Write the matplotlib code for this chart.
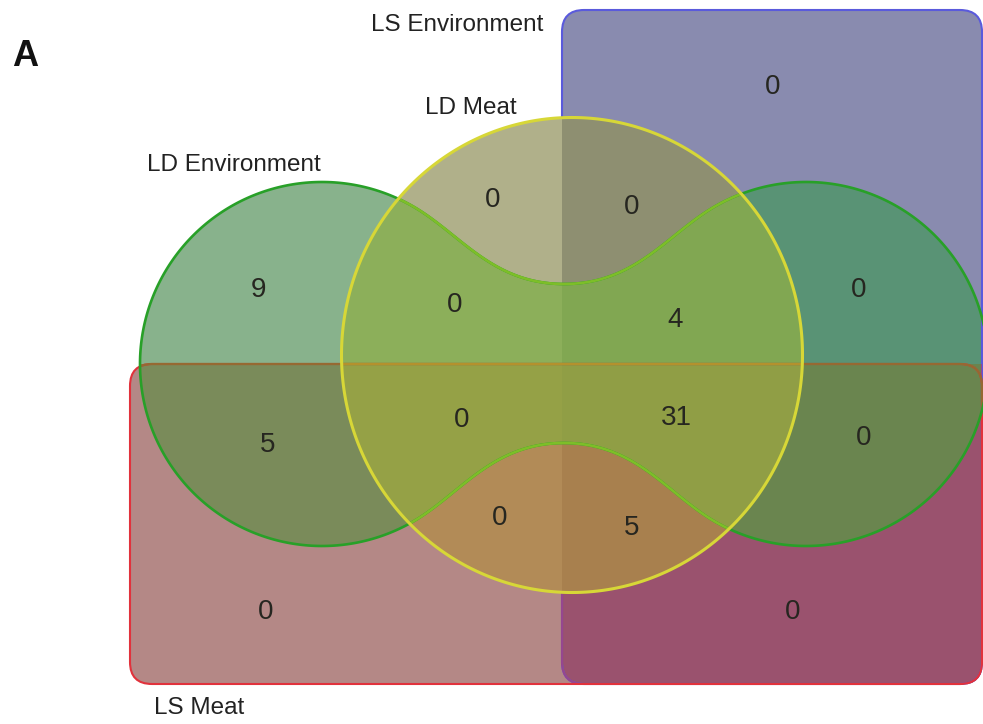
import numpy as np
import matplotlib
matplotlib.use("Agg")
import matplotlib.pyplot as plt
from matplotlib.patches import PathPatch, FancyBboxPatch
from matplotlib.path import Path
from matplotlib.transforms import Bbox, TransformedBbox

plt.rcParams['font.family'] = ['Liberation Sans', 'DejaVu Sans']

# G = LD Environment, Y = LD Meat, B = LS Environment, R = LS Meat
set_keys = ["G", "Y", "B", "R"]
set_labels = ["LD Environment", "LD Meat", "LS Environment", "LS Meat"]

region_keys = ["B", "Y", "YB", "G", "YG", "YGB", "GB", "GR",
               "YGR", "YGRB", "GRB", "YR", "YRB", "R", "RB"]
region_counts = [0, 0, 0, 9, 0, 4, 0, 5, 0, 31, 0, 0, 5, 0, 0]

W, H = 983, 724

# where each count sits and the fill of each region
count_pos = {
    "B": (773, 87), "Y": (493, 200), "YB": (632, 207), "G": (258, 290),
    "YG": (455, 305), "YGB": (675, 320), "GB": (859, 290), "GR": (268, 445),
    "YGR": (462, 420), "YGRB": (676, 418), "GRB": (864, 438),
    "YR": (500, 518), "YRB": (632, 528), "R": (266, 612), "RB": (793, 612),
}
region_color = {
    "B": "#898BAF", "Y": "#B0B08A", "YB": "#8E8F71", "G": "#88B28C",
    "YG": "#8CAF5A", "YGB": "#81A752", "GB": "#599375", "GR": "#7A8B5A",
    "YGR": "#95A146", "YGRB": "#909E45", "GRB": "#6A854F",
    "YR": "#B28B57", "YRB": "#A8804E", "R": "#B48886", "RB": "#9A526E",
}
label_pos = {"G": (234, 165), "Y": (471, 108), "B": (457, 25), "R": (199, 708)}

fig = plt.figure(figsize=(W / 100, H / 100), dpi=100)
ax = fig.add_axes([0, 0, 1, 1])
ax.set_xlim(0, W)
ax.set_ylim(H, 0)
ax.axis('off')


def arc(cx, cy, r, t0, t1, n=240):
    t = np.radians(np.linspace(t0, t1, n))
    return np.column_stack([cx + r * np.cos(t), cy - r * np.sin(t)])


def bezier(p0, p1, p2, p3, n=80):
    s = np.linspace(0, 1, n)[:, None]
    p0, p1, p2, p3 = map(np.asarray, (p0, p1, p2, p3))
    return (1 - s)**3 * p0 + 3 * (1 - s)**2 * s * p1 + 3 * (1 - s) * s**2 * p2 + s**3 * p3


# dumbbell shape for LD Environment
cxL, cxR, cy, r = 322, 806, 364, 182
mid = (cxL + cxR) / 2
waist_top, waist_bot = 284, 443
t0, k, m = 60, 55, 72
c, s_ = np.cos(np.radians(t0)), np.sin(np.radians(t0))

left = arc(cxL, cy, r, t0, 360 - t0)
right = arc(cxR, cy, r, 180 + t0, 540 - t0)
pLb, pLt = left[-1], left[0]
pRb, pRt = right[0], right[-1]
bot1 = bezier(pLb, pLb + k * np.array([s_, -c]), (mid - m, waist_bot), (mid, waist_bot))
bot2 = bezier((mid, waist_bot), (mid + m, waist_bot), pRb + k * np.array([-s_, -c]), pRb)
top1 = bezier(pRt, pRt + k * np.array([-s_, c]), (mid + m, waist_top), (mid, waist_top))
top2 = bezier((mid, waist_top), (mid - m, waist_top), pLt + k * np.array([s_, c]), pLt)
green_verts = np.vstack([left, bot1, bot2, right, top1, top2])
green_path = Path(np.vstack([green_verts, green_verts[:1]]), closed=True)

# circle for LD Meat
ey = np.radians(np.linspace(0, 360, 500))
yellow_verts = np.column_stack([572 + 230.5 * np.cos(ey), 355 + 237.5 * np.sin(ey)])
yellow_path = Path(yellow_verts, closed=True)

# rounded rectangles for the LS sets
rect_bounds = {"B": (562, 10, 982, 684), "R": (130, 364, 982, 684)}
rect_paths = {}
for key, (x0, y0, x1, y1) in rect_bounds.items():
    box = FancyBboxPatch((x0, y0), x1 - x0, y1 - y0,
                         boxstyle="round,pad=0,rounding_size=22")
    rect_paths[key] = box.get_path()


def bbox_of(keys):
    x0 = max(rect_bounds[q][0] for q in keys)
    y0 = max(rect_bounds[q][1] for q in keys)
    x1 = min(rect_bounds[q][2] for q in keys)
    y1 = min(rect_bounds[q][3] for q in keys)
    return TransformedBbox(Bbox([[x0, y0], [x1, y1]]), ax.transData)


# paint regions from single sets up to the full overlap
for key in sorted(region_keys, key=len):
    members = set(key)
    clip = None
    if "Y" in members:
        base = yellow_path
        if "G" in members:
            clip = green_path
    elif "G" in members:
        base = green_path
    else:
        base = rect_paths["B" if "B" in members else "R"]
    rects = [q for q in "BR" if q in members and base is not rect_paths[q]]
    patch = PathPatch(base, facecolor=region_color[key], edgecolor='none', lw=0)
    ax.add_patch(patch)
    if clip is not None:
        patch.set_clip_path(clip, ax.transData)
    if rects:
        patch.set_clip_box(bbox_of(rects))

# everything outside the LD Meat circle
frame = np.array([[-20, -20], [-20, H + 20], [W + 20, H + 20], [W + 20, -20], [-20, -20]])


def signed_area(v):
    return 0.5 * np.sum(v[:-1, 0] * v[1:, 1] - v[1:, 0] * v[:-1, 1])


hole = np.vstack([yellow_verts, yellow_verts[:1]])
if np.sign(signed_area(hole)) == np.sign(signed_area(frame)):
    hole = hole[::-1]
outside_yellow = Path(np.vstack([frame, hole]),
                      [Path.MOVETO] + [Path.LINETO] * 3 + [Path.CLOSEPOLY]
                      + [Path.MOVETO] + [Path.LINETO] * (len(hole) - 2) + [Path.CLOSEPOLY])


def outline(path, color, lw, clip_path=None, clip_box=None):
    p = PathPatch(path, fill=False, edgecolor=color, lw=lw)
    ax.add_patch(p)
    if clip_path is not None:
        p.set_clip_path(clip_path, ax.transData)
    if clip_box is not None:
        p.set_clip_box(clip_box)
    return p


# LS Environment outline, hidden under the circle
outline(rect_paths["B"], "#5A5ADC", 1.5, outside_yellow)
outline(rect_paths["B"], "#964690", 1.5, outside_yellow, bbox_of(["R"]))

# LS Meat outline, tinted where it runs under the other sets
outline(rect_paths["R"], "#E1323C", 1.5)
outline(rect_paths["R"], "#966932", 1.6, green_path)
outline(rect_paths["R"], "#B4912D", 1.6, yellow_path)

# LD Environment outline
outline(green_path, "#28A028", 1.9)
outline(green_path, "#7DBE28", 1.9, yellow_path)

# LD Meat outline
outline(yellow_path, "#D7D737", 2.2)

for key, n in zip(region_keys, region_counts):
    x, y = count_pos[key]
    ax.text(x, y, str(n), ha='center', va='center', fontsize=20, color='#262620')

for key, label in zip(set_keys, set_labels):
    x, y = label_pos[key]
    ax.text(x, y, label, ha='center', va='center', fontsize=17.5, color='#222222')

ax.text(25, 56, "A", ha='center', va='center', fontsize=26, fontweight='bold', color='#111111')

fig.savefig("out.png", dpi=100)
